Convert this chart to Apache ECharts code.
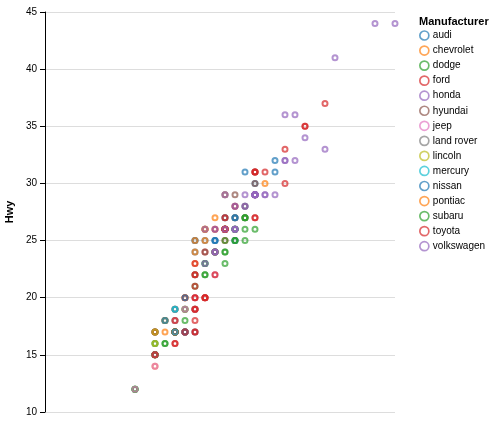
<!DOCTYPE html>
<html><head><meta charset="utf-8">
<script src="https://cdn.jsdelivr.net/npm/echarts@6/dist/echarts.min.js"></script>
<style>html,body{margin:0;padding:0;background:#fff}#c{width:499px;height:424px}</style>
</head><body><div id="c"></div>
<script>
const manufacturers = ['audi','chevrolet','dodge','ford','honda','hyundai','jeep','land rover','lincoln','mercury','nissan','pontiac','subaru','toyota','volkswagen'];
const palette = ['#1f77b4','#ff7f0e','#2ca02c','#d62728','#9467bd','#8c564b','#e377c2','#7f7f7f','#bcbd22','#17becf'];
const yTicks = [10,15,20,25,30,35,40,45];

const audiCty = [18,21,20,21,16,18,18,18,16,20,19,15,17,17,15,15,17,16];
const audiHwy = [29,29,31,30,26,26,27,26,25,28,27,25,25,25,25,24,25,23];
const chevroletCty = [14,11,14,13,12,16,15,16,15,15,14,11,11,14,19,22,18,18,17];
const chevroletHwy = [20,15,20,17,17,26,23,26,25,24,19,14,15,17,27,30,26,29,26];
const dodgeCty = [18,17,16,16,17,17,11,15,15,16,16, 15,14,13,14,14,14,9,11,11, 13,13,9,13,11,13,11, 12,9,13,13,12,9,11,11,13,11];
const dodgeHwy = [24,24,22,22,24,24,17,22,21,23,23, 19,18,17,17,19,19,12,17,15, 17,17,12,17,16,18,15, 16,12,17,17,16,12,15,16,17,15];
const fordCty = [11,11,12, 14,15,14,13,13,13, 14,14,13,13,13,11,13, 18,18,17,16,15,15,15,15,14];
const fordHwy = [17,17,18, 17,19,17,19,19,17, 17,17,16,16,17,15,17, 26,25,26,24,21,22,23,22,20];
const hondaCty = [28,24,25,23,24,26,25,24,21];
const hondaHwy = [33,32,32,29,32,34,36,36,29];
const hyundaiCty = [18,18,21,21,18,18,19,19,19,20,20,17,16,17];
const hyundaiHwy = [26,27,30,31,26,26,28,26,29,28,27,24,24,24];
const jeepCty = [17,15,15,14,14,9,13,11];
const jeepHwy = [22,19,20,17,19,12,18,14];
const landRoverCty = [12,11,12,11];
const landRoverHwy = [18,15,18,15];
const lincolnCty = [11,11,12];
const lincolnHwy = [17,16,18];
const mercuryCty = [14,13,13,13];
const mercuryHwy = [17,19,19,17];
const nissanCty = [21,19,23,23,19,19,18,19,19,14,15,14,12];
const nissanHwy = [29,27,31,32,27,26,26,25,25,17,17,20,18];
const pontiacCty = [18,16,17,18,16];
const pontiacHwy = [26,26,27,26,25];
const subaruCty = [18,18,20,19,20,18,21,19,19,19,20,20,19,20];
const subaruHwy = [25,24,27,25,26,23,26,26,26,26,25,27,25,27];
const toyotaCty = [15,16,15,15,16,14, 21,21,21,21,18,18,19, 21,21,21,22,18,18,18, 24,24,26,28,26, 11,13, 15,16,17,15,15,15,16];
const toyotaHwy = [20,20,19,17,20,17, 29,27,31,31,26,26,28, 27,29,31,31,26,26,27, 30,33,35,37,35, 15,18, 20,20,22,17,19,18,20];
const volkswagenCty = [21,19,21,22,17, 33,21,19,22,21,21,21,16,17, 35,29,21,19,20,20, 21,18,19,21,16,18,17];
const volkswagenHwy = [29,26,29,29,24, 44,29,26,29,29,29,29,23,24, 44,41,29,26,28,29, 29,29,28,29,26,26,26];

const ctyByMaker = [audiCty,chevroletCty,dodgeCty,fordCty,hondaCty,hyundaiCty,jeepCty,landRoverCty,lincolnCty,mercuryCty,nissanCty,pontiacCty,subaruCty,toyotaCty,volkswagenCty];
const hwyByMaker = [audiHwy,chevroletHwy,dodgeHwy,fordHwy,hondaHwy,hyundaiHwy,jeepHwy,landRoverHwy,lincolnHwy,mercuryHwy,nissanHwy,pontiacHwy,subaruHwy,toyotaHwy,volkswagenHwy];

const FONT = 'Arial, "Liberation Sans", sans-serif';
const series = manufacturers.map((m, i) => {
  const c = palette[i % palette.length];
  return {
    name: m,
    type: 'scatter',
    symbol: 'circle',
    symbolSize: 5,
    data: ctyByMaker[i].map((x, k) => [x, hwyByMaker[i][k]]),
    itemStyle: { color: 'rgba(255,255,255,0)', borderColor: c, borderWidth: 2, opacity: 0.7 },
    emphasis: { disabled: true },
    animation: false
  };
});

const chart = echarts.init(document.getElementById('c'), null, { renderer: 'canvas' });
chart.setOption({
  animation: false,
  backgroundColor: '#fff',
  grid: { left: 45, top: 12, right: 104, bottom: 12, containLabel: false, outerBoundsMode: 'none' },
  xAxis: { type: 'value', min: 0, max: 35, show: false },
  yAxis: {
    type: 'value', min: 10, max: 45, interval: 5,
    name: 'Hwy', nameLocation: 'middle', nameGap: 28, nameRotate: 90,
    nameTextStyle: { fontFamily: FONT, fontSize: 11, fontWeight: 'bold', color: '#000' },
    axisLine: { show: true, lineStyle: { color: '#000', width: 1 } },
    axisTick: { show: true, length: 5, lineStyle: { color: '#000' } },
    axisLabel: { fontFamily: FONT, fontSize: 10, color: '#000', margin: 8,
      formatter: v => yTicks.includes(v) ? String(v) : '' },
    splitLine: { show: true, lineStyle: { color: '#ddd', width: 1 } }
  },
  title: {
    text: 'Manufacturer', left: 419, top: 16, padding: 0,
    textStyle: { fontFamily: FONT, fontSize: 11, fontWeight: 'bold', color: '#000' }
  },
  legend: {
    orient: 'vertical', left: 419, top: 30, padding: 0,
    itemWidth: 9, itemHeight: 9, itemGap: 4.05,
    icon: 'circle',
    itemStyle: { borderWidth: 1.7 },
    textStyle: { fontFamily: FONT, fontSize: 10, color: '#000', lineHeight: 11, padding: [0,0,0,-1] },
    data: manufacturers,
    selectedMode: false
  },
  series: series
});
</script></body></html>
